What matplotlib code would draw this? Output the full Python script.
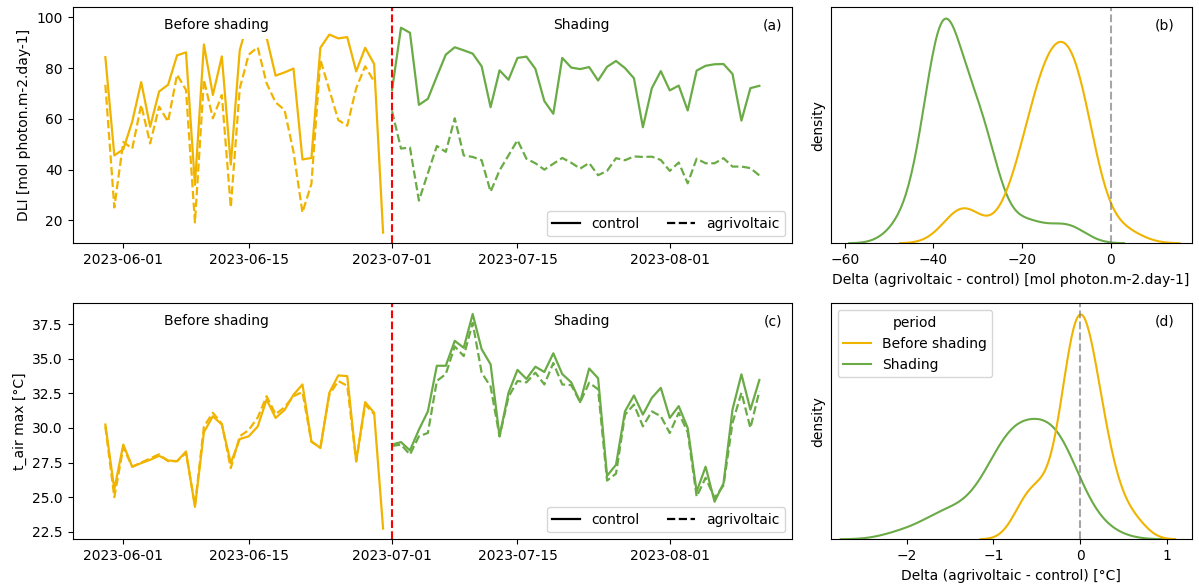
import matplotlib
matplotlib.use("Agg")
import matplotlib.pyplot as plt
import matplotlib.dates as mdates
from matplotlib.lines import Line2D
import numpy as np
import pandas as pd
import seaborn as sns

ORANGE = "#f0b400"
GREEN = "#6aab46"
nan = np.nan

# --- data ----------------------------------------------------------------
before_dates = pd.date_range("2023-05-30", "2023-06-30", freq="D")
shading_dates = pd.date_range("2023-07-01", "2023-08-11", freq="D")

dli_before_control = [84.3, 45.6, 48.0, 58.9, 74.5, 56.9, 70.8, 73.4, 85.0, 86.2,
                      34.0, 89.3, 69.4, 84.6, 42.0, 87.0, 99.7, 97.0, 92.0, 77.0,
                      78.3, 79.8, 44.0, 44.6, 88.0, 93.2, 91.7, 92.2, 78.7, 88.0,
                      81.6, 15.2]
dli_before_agri = [73.4, 25.1, 50.9, 48.3, 65.5, 50.3, 64.8, 58.9, 77.4, 71.4,
                   19.2, 75.4, 60.2, 69.4, 25.1, 72.0, 85.3, 88.2, 74.0, 66.5,
                   63.5, 47.0, 23.1, 34.4, 83.3, 71.4, 59.5, 57.3, 72.1, 80.7,
                   74.7, nan]
dli_shading_control = [71.4, 95.9, 93.9, 65.5, 67.9, 76.7, 85.3, 88.2, 87.0, 85.7,
                       80.7, 64.6, 79.1, 75.4, 84.0, 84.5, 79.7, 67.0, 62.0, 84.0,
                       80.2, 79.6, 80.4, 75.1, 80.5, 82.8, 80.0, 76.0, 56.7, 72.1,
                       78.8, 71.2, 73.1, 63.3, 79.0, 80.9, 81.5, 81.6, 77.7, 59.3,
                       72.1, 73.0]
dli_shading_agri = [63.0, 48.3, 48.7, 27.8, 38.6, 49.3, 47.0, 60.2, 45.6, 45.0,
                    43.7, 31.3, 39.7, 45.6, 51.6, 44.3, 42.5, 40.0, 42.3, 44.6,
                    42.7, 40.4, 42.6, 37.8, 39.5, 44.5, 43.7, 45.2, 45.0, 45.1,
                    43.8, 39.5, 42.8, 34.6, 44.3, 42.5, 42.5, 44.5, 41.2, 41.2,
                    40.6, 37.7]

tair_before_control = [30.25, 25.57, 28.8, 27.2, 27.46, 27.7, 27.99, 27.65, 27.6, 28.3,
                       24.3, 29.7, 30.85, 30.25, 27.46, 29.2, 29.4, 30.1, 32.06, 30.73,
                       31.3, 32.4, 33.15, 29.03, 28.55, 32.55, 33.8, 33.75, 27.58, 31.87,
                       31.1, 22.73]
tair_before_agri = [30.1, 25.0, 28.6, 27.2, 27.5, 27.8, 28.1, 27.6, 27.6, 28.2,
                    24.4, 30.1, 31.1, 30.3, 27.1, 29.4, 29.85, 30.75, 32.3, 31.0,
                    31.5, 32.3, 32.6, 29.0, 28.6, 32.4, 33.4, 33.05, 27.6, 31.7,
                    31.0, nan]
tair_shading_control = [28.8, 28.98, 28.38, 29.88, 31.2, 34.5, 34.5, 36.3, 35.8, 38.24,
                        35.7, 34.6, 29.4, 32.55, 34.2, 33.55, 34.43, 34.05, 35.4, 33.9,
                        33.3, 31.87, 34.3, 33.6, 26.54, 27.34, 31.2, 32.35, 30.97, 32.18,
                        32.9, 30.73, 31.58, 30.0, 25.4, 27.2, 24.67, 26.0, 31.33, 33.88,
                        31.33, 33.47]
tair_shading_agri = [28.7, 28.8, 28.08, 29.4, 29.64, 33.4, 33.9, 35.9, 35.2, 37.6,
                     34.0, 33.0, 29.4, 32.25, 33.4, 33.3, 34.0, 33.15, 34.7, 33.15,
                     33.1, 31.87, 33.27, 32.8, 26.2, 26.7, 30.95, 31.7, 30.12, 31.2,
                     30.85, 29.64, 31.1, 29.7, 25.04, 26.4, 24.95, 25.85, 30.36, 32.55,
                     30.0, 32.67]

PERIODS = ["Before shading", "Shading"]
PALETTE = {"Before shading": ORANGE, "Shading": GREEN}
SHADING_START = pd.Timestamp("2023-07-01")
XTICKS = pd.to_datetime(["2023-06-01", "2023-06-15", "2023-07-01", "2023-07-15", "2023-08-01"])


def delta_frame(b_ctrl, b_agri, s_ctrl, s_agri):
    d_before = np.array(b_agri) - np.array(b_ctrl)
    d_shading = np.array(s_agri) - np.array(s_ctrl)
    df = pd.DataFrame({
        "delta": np.concatenate([d_before, d_shading]),
        "period": [PERIODS[0]] * len(d_before) + [PERIODS[1]] * len(d_shading),
    })
    return df.dropna()


def time_panel(ax, b_ctrl, b_agri, s_ctrl, s_agri, ylabel, tag):
    ax.plot(before_dates, b_ctrl, color=ORANGE, lw=1.6)
    ax.plot(before_dates, b_agri, color=ORANGE, lw=1.6, ls="--")
    ax.plot(shading_dates, s_ctrl, color=GREEN, lw=1.6)
    ax.plot(shading_dates, s_agri, color=GREEN, lw=1.6, ls="--")
    ax.axvline(SHADING_START, color="red", ls="--", lw=1.5)
    ax.set_ylabel(ylabel)
    ax.set_xticks(XTICKS)
    ax.xaxis.set_major_formatter(mdates.DateFormatter("%Y-%m-%d"))
    box = dict(facecolor="white", edgecolor="none", pad=5)
    ax.text(0.2, 0.925, "Before shading", transform=ax.transAxes,
            ha="center", va="center", bbox=box, zorder=5)
    ax.text(0.707, 0.925, "Shading", transform=ax.transAxes,
            ha="center", va="center", bbox=box, zorder=5)
    ax.text(0.973, 0.925, tag, transform=ax.transAxes, ha="center", va="center")
    handles = [Line2D([], [], color="black", lw=1.6),
               Line2D([], [], color="black", lw=1.6, ls="--")]
    ax.legend(handles, ["control", "agrivoltaic"], loc="lower right", ncol=2,
              columnspacing=2.0)


def kde_panel(ax, df, xlabel, tag, legend, xticks, xlim):
    sns.kdeplot(data=df, x="delta", hue="period", hue_order=PERIODS,
                palette=PALETTE, common_norm=False, ax=ax, legend=legend, lw=1.5)
    ax.axvline(0, color="grey", ls="--", alpha=0.7)
    ax.set_xticks(xticks)
    ax.set_xlim(*xlim)
    ax.set_xlabel(xlabel)
    ax.set_ylabel("density")
    ax.set_yticks([])
    ax.text(0.926, 0.925, tag, transform=ax.transAxes, ha="center", va="center")
    if legend:
        sns.move_legend(ax, "upper left")


fig = plt.figure(figsize=(11.99, 5.87), dpi=100)
ax_a = fig.add_axes([0.0606, 0.5855, 0.6, 0.402])
ax_b = fig.add_axes([0.6928, 0.5855, 0.3011, 0.402])
ax_c = fig.add_axes([0.0606, 0.0813, 0.6, 0.402])
ax_d = fig.add_axes([0.6928, 0.0813, 0.3011, 0.402])

time_panel(ax_a, dli_before_control, dli_before_agri, dli_shading_control,
           dli_shading_agri, "DLI [mol photon.m-2.day-1]", "(a)")
time_panel(ax_c, tair_before_control, tair_before_agri, tair_shading_control,
           tair_shading_agri, "t_air max [°C]", "(c)")

kde_panel(ax_b, delta_frame(dli_before_control, dli_before_agri,
                            dli_shading_control, dli_shading_agri),
          "Delta (agrivoltaic - control) [mol photon.m-2.day-1]", "(b)", False,
          [-60, -40, -20, 0], (-63.2, 18.3))
kde_panel(ax_d, delta_frame(tair_before_control, tair_before_agri,
                            tair_shading_control, tair_shading_agri),
          "Delta (agrivoltaic - control) [°C]", "(d)", True,
          [-2, -1, 0, 1], (-2.88, 1.29))

fig.savefig("out.png", dpi=100)
plt.close(fig)
